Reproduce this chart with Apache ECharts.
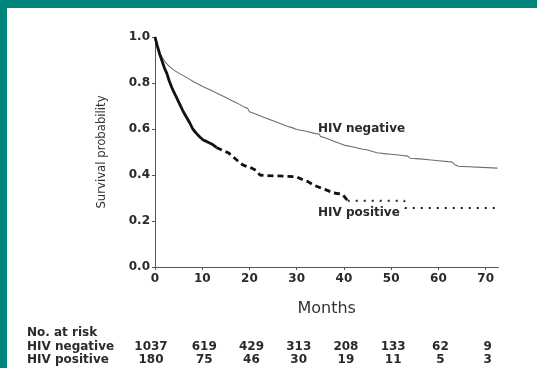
<!DOCTYPE html>
<html>
<head>
<meta charset="utf-8">
<script src="https://cdn.jsdelivr.net/npm/echarts@6/dist/echarts.min.js"></script>
<style>
html,body{margin:0;padding:0;width:537px;height:368px;overflow:hidden;background:#00857d;}
#main{position:absolute;left:7px;top:8px;width:530px;height:360px;background:#ffffff;}
</style>
</head>
<body>
<div id="main"></div>
<script>
// ---- data ----
const xTicks = [0, 10, 20, 30, 40, 50, 60, 70];
const yTicks = [0.0, 0.2, 0.4, 0.6, 0.8, 1.0];

const negMonths = [0, 0.5, 1, 2, 3, 4, 5, 6, 7, 8, 9, 10, 11, 12, 13, 14, 15, 16, 17, 18, 19, 19.6, 20, 21, 22, 23, 24, 25, 26, 27, 28, 29, 30, 32, 34, 34.8, 35, 36, 38, 40, 42, 44, 44.8, 45, 47, 49, 50, 52, 53.5, 53.9, 54, 56, 58, 60, 62, 62.8, 63.5, 64.2, 64.6, 72.5];
const negSurv   = [1.0, 0.96, 0.93, 0.895, 0.872, 0.856, 0.843, 0.832, 0.82, 0.808, 0.797, 0.786, 0.776, 0.767, 0.757, 0.747, 0.737, 0.726, 0.716, 0.706, 0.694, 0.69, 0.675, 0.667, 0.66, 0.651, 0.643, 0.636, 0.628, 0.62, 0.612, 0.606, 0.598, 0.59, 0.58, 0.578, 0.568, 0.562, 0.546, 0.53, 0.522, 0.512, 0.51, 0.503, 0.497, 0.492, 0.49, 0.486, 0.482, 0.482, 0.473, 0.47, 0.466, 0.462, 0.458, 0.457, 0.445, 0.438, 0.43, 0.43];

const posSolidMonths = [0, 0.5, 1, 1.5, 2, 2.5, 3, 3.5, 4, 4.6, 5.3, 6, 6.7, 7.4, 8, 8.8, 9.5, 10.2, 11, 12, 13];
const posSolidSurv   = [1.0, 0.96, 0.925, 0.895, 0.865, 0.842, 0.81, 0.784, 0.76, 0.735, 0.705, 0.675, 0.65, 0.625, 0.6, 0.58, 0.565, 0.552, 0.545, 0.535, 0.52];

const posDashMonths = [13, 14.5, 15.5, 16.5, 17.5, 18.5, 19.5, 20.5, 21.5, 22.2, 23, 26, 30, 31.4, 32.4, 33.5, 35.3, 36.5, 37.8, 39.7, 40.8];
const posDashSurv   = [0.52, 0.505, 0.497, 0.48, 0.462, 0.445, 0.436, 0.43, 0.418, 0.4, 0.398, 0.396, 0.392, 0.378, 0.371, 0.357, 0.342, 0.333, 0.322, 0.316, 0.288];

const posDotMonths = [40.8, 52.8, 52.9, 72.3];
const posDotSurv   = [0.288, 0.288, 0.256, 0.256];

const riskGroups = ['HIV negative', 'HIV positive'];
const riskNeg = [1037, 619, 429, 313, 208, 133, 62, 9];
const riskPos = [180, 75, 46, 30, 19, 11, 5, 3];

// ---- chart ----
const pairs = (xs, ys) => xs.map((x, i) => [x, ys[i]]);
const boldFont = 'DejaVu Sans';
const txt = '#2a2a2a';

const chart = echarts.init(document.getElementById('main'), null, {renderer: 'canvas'});
chart.setOption({
  animation: false,
  backgroundColor: '#ffffff',
  grid: {left: 148, right: 38.6, top: 29, bottom: 101, containLabel: false},
  xAxis: {
    type: 'value', min: 0, max: 72.7,
    name: 'Months', nameLocation: 'middle', nameGap: 34,
    nameTextStyle: {fontFamily: 'DejaVu Sans', fontSize: 16, color: '#333', padding: [0, 0, 0, 0]},
    axisLine: {lineStyle: {color: '#555', width: 1}},
    axisTick: {length: 3, lineStyle: {color: '#555'}, customValues: xTicks},
    axisLabel: {fontFamily: boldFont, fontWeight: 'bold', fontSize: 12, color: txt, margin: 6, customValues: xTicks},
    splitLine: {show: false}
  },
  yAxis: {
    type: 'value', min: 0, max: 1, interval: 0.2,
    name: 'Survival probability', nameLocation: 'middle', nameGap: 47, nameRotate: 90,
    nameTextStyle: {fontFamily: "'DejaVu Sans Condensed', 'Liberation Sans'", fontSize: 13, color: '#333'},
    axisLine: {show: true, lineStyle: {color: '#555', width: 1}},
    axisTick: {show: true, length: 3, lineStyle: {color: '#555'}},
    axisLabel: {fontFamily: boldFont, fontWeight: 'bold', fontSize: 12, color: txt, margin: 5,
      formatter: v => v.toFixed(1)},
    splitLine: {show: false}
  },
  series: [
    {name: 'HIV negative', type: 'line', showSymbol: false,
     data: pairs(negMonths, negSurv), lineStyle: {color: '#6e6e6e', width: 1.1}},
    {name: 'HIV positive solid', type: 'line', showSymbol: false,
     data: pairs(posSolidMonths, posSolidSurv), lineStyle: {color: '#111', width: 2.8}},
    {name: 'HIV positive dashed', type: 'line', showSymbol: false,
     data: pairs(posDashMonths, posDashSurv), lineStyle: {color: '#111', width: 2.8, type: [6, 4]}},
    {name: 'HIV positive dotted', type: 'line', showSymbol: false,
     data: pairs(posDotMonths, posDotSurv), lineStyle: {color: '#222', width: 2, type: [2, 6]}}
  ]
});

// annotations and number-at-risk table placed through the axis scales
const g = [];
const p = (x, y) => chart.convertToPixel({gridIndex: 0}, [x, y]);
const tstyle = (t, x, y, align) => ({type: 'text', x: x, y: y,
  style: {text: t, x: 0, y: 0, fill: txt, font: 'bold 12px "DejaVu Sans"', textAlign: align || 'left', textVerticalAlign: 'middle'}});

const lblNeg = p(34.5, 0.6);
g.push(tstyle('HIV negative', lblNeg[0], lblNeg[1]));
const lblPos = p(34.5, 0.2);
g.push(tstyle('HIV positive', lblPos[0], lblPos[1] - 8));

const baseY = p(0, 0)[1];
g.push(tstyle('No. at risk', 20, baseY + 66));
g.push(tstyle(riskGroups[0], 20, baseY + 80));
g.push(tstyle(riskGroups[1], 20, baseY + 93));
xTicks.forEach((t, i) => {
  const px = p(t, 0)[0] + (i === 0 ? -4 : 2);
  g.push(tstyle(String(riskNeg[i]), px, baseY + 80, 'center'));
  g.push(tstyle(String(riskPos[i]), px, baseY + 93, 'center'));
});
chart.setOption({graphic: g});
</script>
</body>
</html>
